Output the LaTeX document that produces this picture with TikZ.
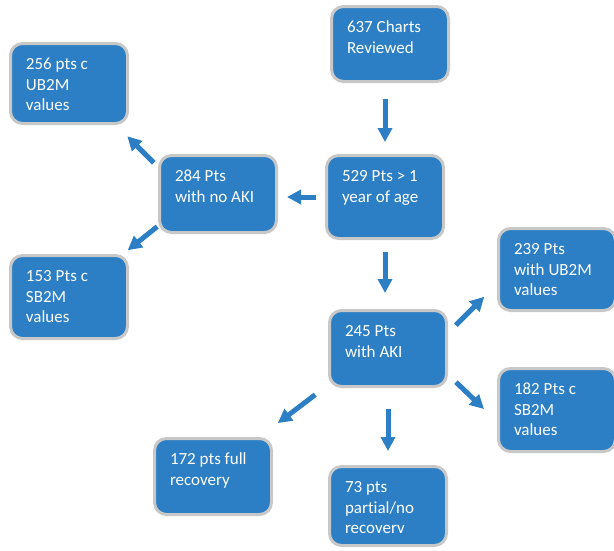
\documentclass[tikz,border=0pt]{standalone}
\usepackage{fontspec}
\usepackage{xcolor}
\usepackage{tikz}
\usetikzlibrary{arrows.meta,positioning}
\setmainfont[Ligatures=NoCommon]{Carlito}
\definecolor{boxblue}{RGB}{44,126,197}
\definecolor{rimgray}{RGB}{200,200,200}
\newcommand{\boxtxt}[2][55pt]{\parbox[t][#1][t]{86pt}{\raggedright\strut#2}}

\begin{document}
\begin{tikzpicture}[
   x=1pt,y=-1pt,
   box/.style={draw=rimgray,line width=3pt,fill=boxblue,rounded corners=12pt,
               inner xsep=15.5pt,inner ysep=12pt,text=white,
               font=\fontsize{17}{20.5}\selectfont},
   arr/.style={-{Triangle[length=14pt,width=14pt]},line width=5pt,draw=boxblue}
  ]
  \useasboundingbox (0,0) rectangle (614,550);
  \node[box] (charts) at (390,44) {\boxtxt[51pt]{637 Charts\\Reviewed}};
  \node[box,below=71pt of charts,xshift=-5pt] (s529) {\boxtxt[59pt]{529 Pts > 1\\year of age}};
  \node[box,left=47pt of s529,yshift=3pt] (s284) {\boxtxt[53pt]{284 Pts\\with no AKI}};
  \node[box,above left=29pt and 29pt of s284] (s256) {\boxtxt[56pt]{256 pts c\\UB2M\\values}};
  \node[box,below left=20pt and 29pt of s284] (s153) {\boxtxt[59pt]{153 Pts c\\SB2M\\values}};
  \node[box,below=69pt of s529,xshift=3pt] (s245) {\boxtxt[52pt]{245 Pts\\with AKI}};
  \node[box,above right=-3pt and 49pt of s245] (s239) {\boxtxt[58pt]{239 Pts\\with UB2M\\values}};
  \node[box,below right=-21pt and 49pt of s245] (s182) {\boxtxt[59pt]{182 Pts c\\SB2M\\values}};
  \node[box,below left=49pt and 55pt of s245] (s172) {\boxtxt[52pt]{172 pts full\\recovery}};
  \node[box,below=77pt of s245] (s73) {\boxtxt[55pt]{73 pts\\partial/no\\recoverv}};

  \draw[arr,shorten <=16pt,shorten >=12pt] (s529.north |- charts.south) -- (s529.north);
  \draw[arr,shorten <=9pt,shorten >=9pt] (s529.west) -- (s529.west -| s284.east);
  \draw[arr,shorten <=6pt,shorten >=16pt] ([yshift=-13pt]s284.north west) -- ([xshift=-13pt]s256.south east);
  \draw[arr,shorten <=1pt,shorten >=6pt] ([yshift=8pt]s284.south west) -- ([xshift=-6pt]s153.north east);
  \draw[arr,shorten <=12pt,shorten >=16pt] (s529.south) -- (s529.south |- s245.north);
  \draw[arr,shorten <=11pt,shorten >=18pt] ([yshift=15.5pt]s245.east) -- ([yshift=-14.5pt]s239.west);
  \draw[arr,shorten <=11pt,shorten >=18pt] ([yshift=-26pt]s245.east) -- ([yshift=-11.5pt]s182.west);
  \draw[arr,shorten <=16pt,shorten >=23pt] ([yshift=3pt]s245.south west) -- ([xshift=-13.5pt]s172.north east);
  \draw[arr,shorten <=21pt,shorten >=14pt] (s245.south) -- (s73.north);
\end{tikzpicture}
\end{document}
